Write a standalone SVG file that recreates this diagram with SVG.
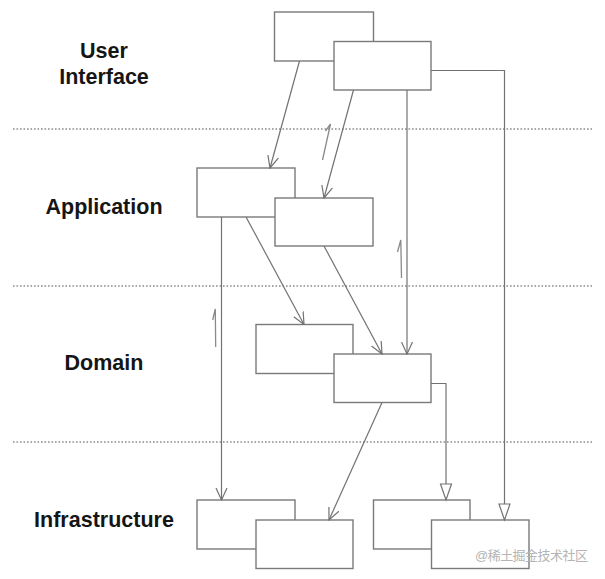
<svg xmlns="http://www.w3.org/2000/svg" width="605" height="579" viewBox="0 0 605 579">
<defs>
<style>
.box{fill:#fff;stroke:#7a7a7a;stroke-width:1.4}
.ln{fill:none;stroke:#727272;stroke-width:1.2}
.mk{fill:none;stroke:#8a8a8a;stroke-width:1.3}
.dot{stroke:#8c8c8c;stroke-width:1.6;stroke-dasharray:1.6 1.9}
.lbl{font-family:"Liberation Sans",Arial,sans-serif;font-weight:bold;font-size:21.5px;fill:#151515;text-anchor:middle}
.wm{font-family:"Liberation Sans","Noto Sans CJK SC",sans-serif;font-size:13px;fill:#b4b4b4}
</style>
<marker id="open" viewBox="0 0 13 13" refX="12" refY="6.5" markerWidth="13" markerHeight="13" markerUnits="userSpaceOnUse" orient="auto">
<path d="M0,1 L12,6.5 L0,12" fill="none" stroke="#727272" stroke-width="1.2"/>
</marker>
<marker id="tri" viewBox="0 0 20 14" refX="18" refY="7" markerWidth="20" markerHeight="14" markerUnits="userSpaceOnUse" orient="auto">
<path d="M2,1.5 L18,7 L2,12.5 Z" fill="#fff" stroke="#727272" stroke-width="1.2"/>
</marker>
</defs>
<rect width="605" height="579" fill="#fff"/>
<g id="layers">
<line class="dot" x1="13" y1="129" x2="592" y2="129"/>
<line class="dot" x1="13" y1="286" x2="592" y2="286"/>
<line class="dot" x1="13" y1="442" x2="592" y2="442"/>
</g>
<g id="labels">
<text class="lbl" x="104" y="57.5">User</text>
<text class="lbl" x="104" y="84">Interface</text>
<text class="lbl" x="104" y="213.5">Application</text>
<text class="lbl" x="104" y="370">Domain</text>
<text class="lbl" x="104" y="527">Infrastructure</text>
</g>
<g id="ui-a"><rect class="box" x="274.5" y="12" width="99" height="49"/></g>
<g id="ui-b"><rect class="box" x="334" y="41.5" width="97" height="48.5"/></g>
<g id="app-a"><rect class="box" x="197" y="168" width="98" height="49"/></g>
<g id="app-b"><rect class="box" x="275" y="198" width="98" height="48"/></g>
<g id="dom-a"><rect class="box" x="256" y="324.5" width="97" height="49"/></g>
<g id="dom-b"><rect class="box" x="334" y="354" width="97" height="48.5"/></g>
<g id="inf-a"><rect class="box" x="197" y="500" width="98" height="49"/></g>
<g id="inf-b"><rect class="box" x="256" y="520" width="97" height="48.5"/></g>
<g id="inf-c"><rect class="box" x="373.5" y="500" width="96.5" height="49"/></g>
<g id="inf-d"><rect class="box" x="431.5" y="520" width="97.5" height="48.5"/></g>
<g id="connectors">
<line class="ln" x1="299.5" y1="61" x2="270" y2="168" marker-end="url(#open)"/>
<line class="ln" x1="353.5" y1="90" x2="324" y2="198" marker-end="url(#open)"/>
<line class="ln" x1="407" y1="90" x2="407" y2="354" marker-end="url(#open)"/>
<polyline class="ln" points="431,70.5 504.5,70.5 504.5,520" marker-end="url(#tri)"/>
<line class="ln" x1="246" y1="217" x2="304" y2="324.5" marker-end="url(#open)"/>
<line class="ln" x1="324" y1="246" x2="382" y2="354" marker-end="url(#open)"/>
<line class="ln" x1="221.5" y1="217" x2="221.5" y2="500" marker-end="url(#open)"/>
<polyline class="ln" points="431,383.5 446,383.5 446,500" marker-end="url(#tri)"/>
<line class="ln" x1="382" y1="402.5" x2="329" y2="520" marker-end="url(#open)"/>
<polyline class="mk" points="325.5,131 330.5,124 322.5,160"/>
<polyline class="mk" points="397.5,252 400.8,240 401.5,278"/>
<polyline class="mk" points="212.7,320 215.3,309 215.7,347"/>
</g>
<text class="wm" x="475" y="559.5" textLength="113">@稀土掘金技术社区</text>
</svg>
